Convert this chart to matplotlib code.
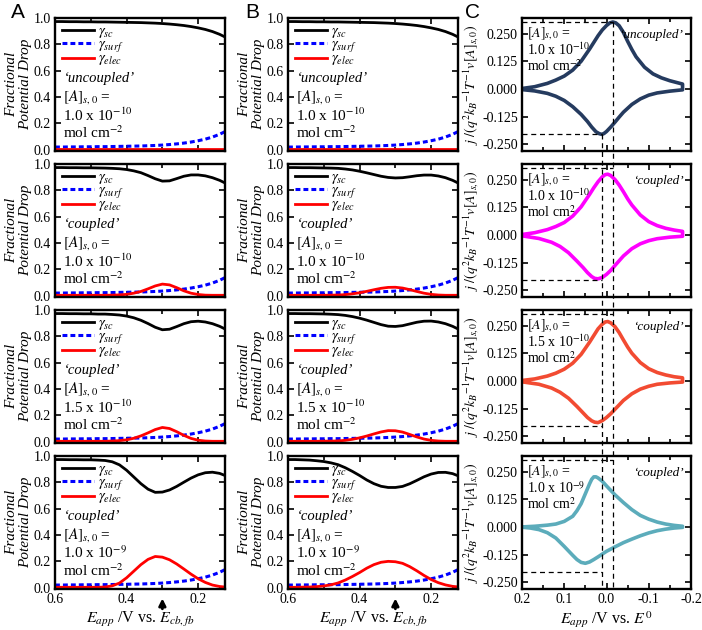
# Plotting script for fractional potential drops (A, B) and simulated CVs (C)

import matplotlib.pyplot as plt
import matplotlib.transforms as mtransforms
from matplotlib.lines import Line2D
from matplotlib.ticker import MultipleLocator, FormatStrFormatter

plt.rcParams['font.family'] = ['Liberation Serif', 'DejaVu Serif']
plt.rcParams['mathtext.fontset'] = 'stix'
plt.rcParams['axes.unicode_minus'] = False

# Applied potential for columns A and B (V vs. E_cb,fb)
e_app = [0.60, 0.58, 0.56, 0.54, 0.52, 0.50, 0.48, 0.46, 0.44, 0.42, 0.40, 0.38, 0.36,
         0.34, 0.32, 0.30, 0.28, 0.26, 0.24, 0.22, 0.20, 0.18, 0.16, 0.14, 0.125]

# gamma_surf is the same in every panel
gamma_surf = [0.020, 0.020, 0.021, 0.021, 0.022, 0.022, 0.023, 0.023, 0.024, 0.025, 0.026, 0.027, 0.028,
              0.030, 0.032, 0.035, 0.039, 0.044, 0.050, 0.058, 0.068, 0.080, 0.096, 0.117, 0.137]

# uncoupled case (top row of A and B)
sc_uncoupled = [0.973, 0.973, 0.972, 0.972, 0.971, 0.971, 0.970, 0.970, 0.969, 0.968, 0.967, 0.966, 0.965,
                0.963, 0.961, 0.958, 0.954, 0.949, 0.943, 0.935, 0.925, 0.913, 0.897, 0.876, 0.856]
elec_uncoupled = [0.003, 0.003, 0.003, 0.003, 0.003, 0.003, 0.003, 0.003, 0.003, 0.003, 0.003, 0.003, 0.003,
                  0.003, 0.003, 0.003, 0.003, 0.003, 0.003, 0.003, 0.003, 0.003, 0.003, 0.003, 0.003]

# column A, coupled
sc_a2 = [0.973, 0.973, 0.972, 0.972, 0.971, 0.971, 0.970, 0.969, 0.967, 0.964, 0.958, 0.948, 0.934,
         0.912, 0.888, 0.870, 0.872, 0.889, 0.907, 0.917, 0.917, 0.910, 0.896, 0.876, 0.856]
elec_a2 = [0.003, 0.003, 0.003, 0.003, 0.003, 0.003, 0.003, 0.003, 0.004, 0.006, 0.010, 0.019, 0.032,
           0.052, 0.074, 0.088, 0.082, 0.061, 0.037, 0.019, 0.009, 0.004, 0.003, 0.003, 0.003]
sc_a3 = [0.973, 0.973, 0.972, 0.972, 0.971, 0.971, 0.969, 0.969, 0.966, 0.962, 0.954, 0.941, 0.922,
         0.897, 0.869, 0.850, 0.854, 0.874, 0.896, 0.911, 0.915, 0.909, 0.896, 0.876, 0.856]
elec_a3 = [0.003, 0.003, 0.003, 0.003, 0.003, 0.003, 0.003, 0.003, 0.005, 0.008, 0.014, 0.026, 0.044,
           0.067, 0.092, 0.108, 0.100, 0.076, 0.048, 0.025, 0.011, 0.005, 0.003, 0.003, 0.003]
sc_a4 = [0.973, 0.973, 0.972, 0.972, 0.971, 0.971, 0.969, 0.966, 0.956, 0.933, 0.892, 0.841, 0.790,
         0.748, 0.724, 0.726, 0.742, 0.769, 0.801, 0.832, 0.857, 0.873, 0.877, 0.868, 0.852]
elec_a4 = [0.003, 0.003, 0.003, 0.003, 0.003, 0.003, 0.003, 0.005, 0.014, 0.035, 0.075, 0.125, 0.175,
           0.215, 0.237, 0.232, 0.212, 0.180, 0.142, 0.103, 0.068, 0.040, 0.020, 0.009, 0.005]

# column B, coupled
sc_b2 = [0.973, 0.973, 0.972, 0.972, 0.971, 0.970, 0.969, 0.967, 0.962, 0.955, 0.945, 0.933, 0.920,
         0.907, 0.898, 0.894, 0.896, 0.903, 0.911, 0.916, 0.916, 0.909, 0.896, 0.876, 0.856]
elec_b2 = [0.003, 0.003, 0.003, 0.003, 0.003, 0.003, 0.004, 0.005, 0.008, 0.014, 0.022, 0.033, 0.045,
           0.056, 0.063, 0.064, 0.058, 0.046, 0.032, 0.019, 0.010, 0.005, 0.003, 0.003, 0.003]
sc_b3 = [0.973, 0.973, 0.972, 0.972, 0.971, 0.970, 0.968, 0.965, 0.959, 0.950, 0.938, 0.923, 0.906,
         0.889, 0.877, 0.875, 0.881, 0.894, 0.907, 0.915, 0.916, 0.909, 0.896, 0.876, 0.856]
elec_b3 = [0.003, 0.003, 0.003, 0.003, 0.003, 0.004, 0.004, 0.006, 0.010, 0.018, 0.029, 0.043, 0.059,
           0.074, 0.084, 0.083, 0.073, 0.055, 0.036, 0.020, 0.010, 0.005, 0.003, 0.003, 0.003]
sc_b4 = [0.973, 0.973, 0.971, 0.969, 0.964, 0.958, 0.948, 0.934, 0.911, 0.883, 0.852, 0.818, 0.790,
         0.770, 0.761, 0.761, 0.769, 0.789, 0.815, 0.842, 0.863, 0.875, 0.876, 0.866, 0.850]
elec_b4 = [0.003, 0.003, 0.004, 0.005, 0.008, 0.013, 0.022, 0.036, 0.058, 0.085, 0.115, 0.148, 0.175,
           0.193, 0.200, 0.197, 0.185, 0.160, 0.128, 0.093, 0.062, 0.038, 0.021, 0.010, 0.006]

# row labels
modes = ['uncoupled', 'coupled', 'coupled', 'coupled']
conc_ab = ['1.0 x 10$^{-10}$', '1.0 x 10$^{-10}$', '1.5 x 10$^{-10}$', '1.0 x 10$^{-9}$']
conc_c = ['1.0 x 10$^{-10}$', '1.0 x 10$^{-10}$', '1.5 x 10$^{-10}$', '1.0 x 10$^{-9}$']
units_c = ['mol cm$^{-2}$', 'mol cm$^{2}$', 'mol cm$^{2}$', 'mol cm$^{2}$']

# column C, forward (top) and reverse (bottom) branches, E vs. E0 and normalised j
cv_e_fwd_1 = [0.20, 0.17, 0.14, 0.12, 0.10, 0.08, 0.06, 0.04, 0.03, 0.02, 0.01, 0.00, -0.008,
              -0.015, -0.022, -0.03, -0.04, -0.05, -0.06, -0.07, -0.09, -0.11, -0.13, -0.15, -0.18]
cv_j_fwd_1 = [0.002, 0.010, 0.025, 0.040, 0.058, 0.085, 0.125, 0.180, 0.210, 0.240, 0.266, 0.286, 0.298,
              0.302, 0.298, 0.285, 0.255, 0.215, 0.178, 0.145, 0.098, 0.068, 0.050, 0.037, 0.022]
cv_e_rev_1 = [-0.18, -0.15, -0.12, -0.10, -0.08, -0.06, -0.04, -0.03, -0.02, -0.01, 0.00, 0.006,
              0.011, 0.017, 0.025, 0.035, 0.045, 0.06, 0.08, 0.10, 0.12, 0.14, 0.17, 0.20]
cv_j_rev_1 = [-0.004, -0.010, -0.018, -0.028, -0.045, -0.070, -0.105, -0.127, -0.150, -0.172, -0.192, -0.201,
              -0.205, -0.202, -0.193, -0.172, -0.147, -0.115, -0.080, -0.052, -0.033, -0.020, -0.009, -0.003]

cv_e_fwd_2 = [0.20, 0.17, 0.14, 0.12, 0.10, 0.08, 0.06, 0.04, 0.03, 0.02, 0.01, 0.003, -0.003,
              -0.01, -0.02, -0.03, -0.04, -0.05, -0.06, -0.08, -0.10, -0.12, -0.14, -0.16, -0.18]
cv_j_fwd_2 = [0.002, 0.010, 0.024, 0.038, 0.056, 0.085, 0.127, 0.183, 0.213, 0.240, 0.262, 0.272, 0.274,
              0.268, 0.250, 0.225, 0.195, 0.163, 0.135, 0.090, 0.060, 0.042, 0.030, 0.022, 0.016]
cv_e_rev_2 = [-0.18, -0.15, -0.12, -0.10, -0.08, -0.06, -0.04, -0.02, -0.01, 0.00, 0.01, 0.02,
              0.028, 0.035, 0.045, 0.055, 0.07, 0.09, 0.11, 0.13, 0.16, 0.20]
cv_j_rev_2 = [-0.006, -0.010, -0.017, -0.026, -0.040, -0.062, -0.095, -0.138, -0.160, -0.178, -0.192, -0.198,
              -0.196, -0.188, -0.170, -0.148, -0.118, -0.080, -0.052, -0.033, -0.016, -0.004]

cv_e_fwd_3 = [0.20, 0.17, 0.14, 0.12, 0.10, 0.08, 0.06, 0.04, 0.03, 0.02, 0.01, 0.003, -0.003,
              -0.01, -0.02, -0.03, -0.04, -0.05, -0.06, -0.08, -0.10, -0.12, -0.14, -0.16, -0.18]
cv_j_fwd_3 = [0.002, 0.009, 0.022, 0.035, 0.053, 0.080, 0.120, 0.175, 0.205, 0.235, 0.256, 0.266, 0.268,
              0.262, 0.245, 0.218, 0.185, 0.153, 0.125, 0.083, 0.055, 0.038, 0.027, 0.019, 0.014]
cv_e_rev_3 = [-0.18, -0.15, -0.12, -0.10, -0.08, -0.06, -0.04, -0.02, -0.01, 0.00, 0.01, 0.02,
              0.028, 0.035, 0.045, 0.055, 0.07, 0.09, 0.11, 0.13, 0.16, 0.20]
cv_j_rev_3 = [-0.005, -0.009, -0.015, -0.024, -0.037, -0.058, -0.088, -0.128, -0.148, -0.165, -0.179, -0.188,
              -0.186, -0.180, -0.165, -0.145, -0.115, -0.078, -0.051, -0.032, -0.015, -0.004]

cv_e_fwd_4 = [0.20, 0.17, 0.14, 0.12, 0.10, 0.08, 0.07, 0.06, 0.05, 0.04, 0.035, 0.03, 0.025,
              0.02, 0.01, 0.00, -0.02, -0.04, -0.06, -0.08, -0.10, -0.12, -0.14, -0.16, -0.18]
cv_j_fwd_4 = [0.000, 0.003, 0.008, 0.013, 0.025, 0.048, 0.073, 0.105, 0.150, 0.195, 0.215, 0.226, 0.226,
              0.221, 0.206, 0.185, 0.145, 0.110, 0.078, 0.052, 0.035, 0.022, 0.013, 0.007, 0.003]
cv_e_rev_4 = [-0.18, -0.16, -0.14, -0.12, -0.10, -0.08, -0.06, -0.04, -0.02, 0.00, 0.02, 0.03,
              0.04, 0.05, 0.06, 0.07, 0.08, 0.09, 0.10, 0.12, 0.14, 0.16, 0.18, 0.20]
cv_j_rev_4 = [-0.002, -0.005, -0.010, -0.017, -0.027, -0.040, -0.055, -0.071, -0.090, -0.110, -0.135, -0.147,
              -0.158, -0.164, -0.160, -0.147, -0.128, -0.108, -0.088, -0.050, -0.026, -0.012, -0.005, -0.001]

cv_colors = ['#253b5f', '#ff00ff', '#f24b32', '#5cacbb']

# uncoupled peak positions used for the dashed guide lines
ox_peak_e, ox_peak_j = -0.015, 0.302
red_peak_e, red_peak_j = 0.011, -0.205

W, H = 702, 630
fig = plt.figure(figsize=(W / 100, H / 100), dpi=100)
row_top = [18, 164, 310, 456]
row_h = 133


def px_axes(left, top, width, height):
    return fig.add_axes([left / W, 1 - (top + height) / H, width / W, height / H])


def style_axes(ax):
    for sp in ax.spines.values():
        sp.set_linewidth(1.7)
    ax.tick_params(which='both', direction='in', top=True, right=True, width=1.2, labelsize=10, pad=3)
    ax.tick_params(which='major', length=4)
    ax.tick_params(which='minor', length=3)


def plot_drop_column(left, sc_list, elec_list):
    axes = []
    for i in range(4):
        ax = px_axes(left, row_top[i], 170, row_h)
        ax.plot(e_app, sc_list[i], color='k', lw=2, label=r'$\gamma_{sc}$')
        ax.plot(e_app, gamma_surf, color='#0000ff', lw=2.2, ls=(0, (1.6, 1.0)), label=r'$\gamma_{surf}$')
        ax.plot(e_app, elec_list[i], color='#ff0000', lw=2, label=r'$\gamma_{elec}$')
        ax.set_xlim(0.6, 0.125)
        ax.set_ylim(-0.01, 1.0)
        ax.xaxis.set_major_locator(MultipleLocator(0.2))
        ax.xaxis.set_minor_locator(MultipleLocator(0.1))
        ax.yaxis.set_major_locator(MultipleLocator(0.2))
        ax.xaxis.set_major_formatter(FormatStrFormatter('%.1f'))
        ax.yaxis.set_major_formatter(FormatStrFormatter('%.1f'))
        style_axes(ax)
        ax.legend(loc='upper left', bbox_to_anchor=(0.0, 1.0), frameon=False, fontsize=10.5,
                  handlelength=2.2, handleheight=0.4, handletextpad=0.3, labelspacing=-0.12,
                  borderaxespad=0.15, borderpad=0.3)
        ax.set_ylabel('Fractional\nPotential Drop', style='italic', fontsize=11, labelpad=1,
                      linespacing=1.15)

        # case description
        ax.text(0.05, 0.545, '\u2018' + modes[i] + '\u2019', style='italic', fontsize=10.5,
                transform=ax.transAxes, va='center')
        ax.text(0.05, 0.405, r'$[A]_{s,0}$ =', fontsize=11, transform=ax.transAxes, va='center')
        ax.text(0.05, 0.27, conc_ab[i], fontsize=11, transform=ax.transAxes, va='center')
        ax.text(0.05, 0.135, 'mol cm$^{-2}$', fontsize=11, transform=ax.transAxes, va='center')

        if i < 3:
            ax.tick_params(labelbottom=False)
        else:
            ax.set_xlabel(r'$E_{app}$ /V vs. $E_{cb,fb}$', fontsize=11.5, labelpad=3)
            # arrow marking the surface state potential
            ax.annotate('', xy=(0.3, -0.05), xytext=(0.3, -0.17),
                        xycoords=('data', 'axes fraction'), textcoords=('data', 'axes fraction'),
                        arrowprops=dict(arrowstyle='-|>', color='k', lw=2, mutation_scale=10))
        axes.append(ax)
    return axes


def plot_cv_column(left):
    e_fwd = [cv_e_fwd_1, cv_e_fwd_2, cv_e_fwd_3, cv_e_fwd_4]
    j_fwd = [cv_j_fwd_1, cv_j_fwd_2, cv_j_fwd_3, cv_j_fwd_4]
    e_rev = [cv_e_rev_1, cv_e_rev_2, cv_e_rev_3, cv_e_rev_4]
    j_rev = [cv_j_rev_1, cv_j_rev_2, cv_j_rev_3, cv_j_rev_4]
    axes = []
    for i in range(4):
        ax = px_axes(left, row_top[i], 169, row_h)
        ax.plot(e_fwd[i] + e_rev[i], j_fwd[i] + j_rev[i], color=cv_colors[i], lw=2.6)
        # horizontal guides at the uncoupled peak currents
        ax.plot([0.2, ox_peak_e], [ox_peak_j, ox_peak_j], color='k', ls='--', lw=0.9, dashes=(4, 3))
        ax.plot([0.2, red_peak_e], [red_peak_j, red_peak_j], color='k', ls='--', lw=0.9, dashes=(4, 3))
        ax.set_xlim(0.2, -0.2)
        ax.set_ylim(-0.28, 0.32)
        ax.xaxis.set_major_locator(MultipleLocator(0.1))
        ax.xaxis.set_minor_locator(MultipleLocator(0.05))
        ax.yaxis.set_major_locator(MultipleLocator(0.125))
        ax.xaxis.set_major_formatter(FormatStrFormatter('%.1f'))
        ax.yaxis.set_major_formatter(FormatStrFormatter('%.3f'))
        style_axes(ax)
        ax.set_ylabel(r'$j\ /(q^2k_B{}^{-1}T^{-1}v[A]_{s,0})$', fontsize=10, labelpad=1)

        ax.text(0.03, 0.885, r'$[A]_{s,0}$ =', fontsize=10, transform=ax.transAxes, va='center')
        ax.text(0.03, 0.76, conc_c[i], fontsize=10, transform=ax.transAxes, va='center')
        ax.text(0.03, 0.64, units_c[i], fontsize=10, transform=ax.transAxes, va='center')
        ax.text(0.955, 0.875, '\u2018' + modes[i] + '\u2019', style='italic', fontsize=9.5,
                transform=ax.transAxes, va='center', ha='right')

        if i < 3:
            ax.tick_params(labelbottom=False)
        else:
            ax.set_xlabel(r'$E_{app}$ /V vs. $E^0$', fontsize=11.5, labelpad=2)
        axes.append(ax)

    # vertical guides run through all four panels
    trans = mtransforms.blended_transform_factory(axes[0].transData, fig.transFigure)
    to_fig = fig.transFigure.inverted()
    y_bottom = axes[3].get_position().y0
    for e, j in [(ox_peak_e, ox_peak_j), (red_peak_e, red_peak_j)]:
        y_top = to_fig.transform(axes[0].transData.transform((e, j)))[1]
        fig.add_artist(Line2D([e, e], [y_top, y_bottom], transform=trans, color='k',
                              ls='--', lw=0.9, dashes=(4, 3)))
    return axes


def main():
    plot_drop_column(55, [sc_uncoupled, sc_a2, sc_a3, sc_a4],
                     [elec_uncoupled, elec_a2, elec_a3, elec_a4])
    plot_drop_column(288, [sc_uncoupled, sc_b2, sc_b3, sc_b4],
                     [elec_uncoupled, elec_b2, elec_b3, elec_b4])
    plot_cv_column(522)

    # panel letters
    for x, letter in [(18, 'A'), (252, 'B'), (472, 'C')]:
        fig.text(x / W, 1 - 12 / H, letter, fontsize=15, family='Liberation Sans', ha='center', va='center')

    fig.savefig('out.png', dpi=100)


if __name__ == '__main__':
    main()
